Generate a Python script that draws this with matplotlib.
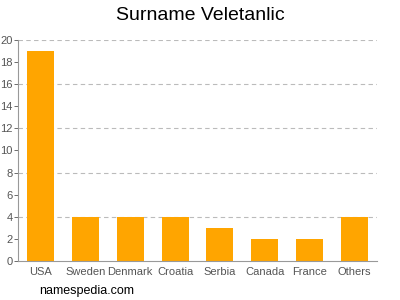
import matplotlib
matplotlib.use('Agg')
import matplotlib.pyplot as plt

countries = ['USA', 'Sweden', 'Denmark', 'Croatia', 'Serbia', 'Canada', 'France', 'Others']
counts = [19, 4, 4, 4, 3, 2, 2, 4]
yticks = list(range(0, 21, 2))
gridticks = [4, 8, 12, 16, 20]

plt.rcParams['font.family'] = ['Liberation Sans', 'DejaVu Sans']

fig = plt.figure(figsize=(4, 3), dpi=100)
ax = fig.add_axes([0.045, 0.13, 0.8975, 0.737])

x = list(range(len(countries)))
ax.bar(x, counts, width=0.6, color='#ffa500', zorder=2)
for g in gridticks:
    ax.axhline(g, color='#bbbbbb', linestyle=(0, (4, 3)), linewidth=0.8, zorder=1)

ax.set_xlim(-0.5, len(countries) - 0.5)
ax.set_ylim(0, 20)
ax.set_yticks(yticks)
ax.set_xticks(x)
ax.set_xticklabels(countries)
ax.tick_params(axis='both', labelsize=8, colors='#555555', length=3, width=0.6, pad=1)
ax.tick_params(axis='x', length=0, pad=4)

for s in ['top', 'right']:
    ax.spines[s].set_visible(False)
for s in ['left', 'bottom']:
    ax.spines[s].set_color('#999999')
    ax.spines[s].set_linewidth(0.8)

fig.text(0.5, 0.95, 'Surname Veletanlic', ha='center', va='center', fontsize=14)
fig.text(0.098, 0.03, 'namespedia.com', ha='left', va='center', fontsize=9)

fig.savefig('out.png', dpi=100)
